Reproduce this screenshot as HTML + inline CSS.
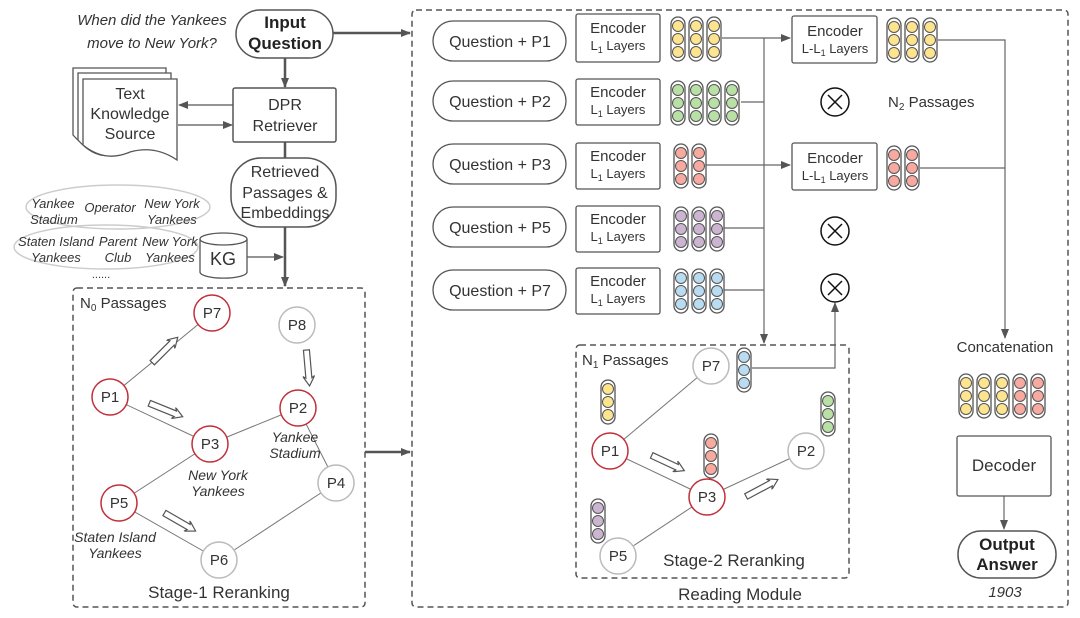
<!DOCTYPE html>
<html><head><meta charset="utf-8"><style>
html,body{margin:0;padding:0;background:#fff}
svg{display:block;font-family:"Liberation Sans",sans-serif}
</style></head><body>
<svg width="1080" height="618" viewBox="0 0 1080 618" xmlns="http://www.w3.org/2000/svg">
<defs>
<marker id="ar" markerWidth="10" markerHeight="8" refX="9" refY="4" orient="auto" markerUnits="userSpaceOnUse"><path d="M0,0 L10,4 L0,8 z" fill="#555"/></marker>
<symbol id="vy" viewBox="0 0 16 46" width="16" height="46"><rect x="1" y="1" width="14" height="44" rx="7" fill="#fff" stroke="#555" stroke-width="1.3"/><circle cx="8" cy="10" r="5.5" fill="#fde58f" stroke="#555"/><circle cx="8" cy="23" r="5.5" fill="#fde58f" stroke="#555"/><circle cx="8" cy="36" r="5.5" fill="#fde58f" stroke="#555"/></symbol>
<symbol id="vg" viewBox="0 0 16 46" width="16" height="46"><rect x="1" y="1" width="14" height="44" rx="7" fill="#fff" stroke="#555" stroke-width="1.3"/><circle cx="8" cy="10" r="5.5" fill="#b9e0a5" stroke="#555"/><circle cx="8" cy="23" r="5.5" fill="#b9e0a5" stroke="#555"/><circle cx="8" cy="36" r="5.5" fill="#b9e0a5" stroke="#555"/></symbol>
<symbol id="vr" viewBox="0 0 16 46" width="16" height="46"><rect x="1" y="1" width="14" height="44" rx="7" fill="#fff" stroke="#555" stroke-width="1.3"/><circle cx="8" cy="10" r="5.5" fill="#f8a9a0" stroke="#555"/><circle cx="8" cy="23" r="5.5" fill="#f8a9a0" stroke="#555"/><circle cx="8" cy="36" r="5.5" fill="#f8a9a0" stroke="#555"/></symbol>
<symbol id="vp" viewBox="0 0 16 46" width="16" height="46"><rect x="1" y="1" width="14" height="44" rx="7" fill="#fff" stroke="#555" stroke-width="1.3"/><circle cx="8" cy="10" r="5.5" fill="#cbb5d1" stroke="#555"/><circle cx="8" cy="23" r="5.5" fill="#cbb5d1" stroke="#555"/><circle cx="8" cy="36" r="5.5" fill="#cbb5d1" stroke="#555"/></symbol>
<symbol id="vb" viewBox="0 0 16 46" width="16" height="46"><rect x="1" y="1" width="14" height="44" rx="7" fill="#fff" stroke="#555" stroke-width="1.3"/><circle cx="8" cy="10" r="5.5" fill="#b9dcf2" stroke="#555"/><circle cx="8" cy="23" r="5.5" fill="#b9dcf2" stroke="#555"/><circle cx="8" cy="36" r="5.5" fill="#b9dcf2" stroke="#555"/></symbol>
<symbol id="ha" viewBox="-20 -6 40 12" width="40" height="12"><path d="M-18,-3 L10,-3 L8,-6 L18,0 L8,6 L10,3 L-18,3 z" fill="#fff" stroke="#555" stroke-width="1.2"/></symbol>
</defs>

<!-- dashed boxes -->
<rect x="73" y="288" width="292" height="319" rx="4" fill="none" stroke="#555" stroke-width="1.5" stroke-dasharray="6,4"/>
<rect x="412" y="10" width="656" height="597" rx="4" fill="none" stroke="#555" stroke-width="1.5" stroke-dasharray="6,4"/>
<rect x="576" y="345" width="273" height="233" rx="4" fill="none" stroke="#555" stroke-width="1.5" stroke-dasharray="6,4"/>

<g fill="#333" font-size="15" font-style="italic" text-anchor="middle">
<text x="152" y="25">When did the Yankees</text>
<text x="152" y="48">move to New York?</text>
</g>
<rect x="236" y="10" width="97" height="48" rx="24" fill="#fff" stroke="#555" stroke-width="1.5"/>
<g font-size="17" font-weight="bold" fill="#222" text-anchor="middle"><text x="285" y="28">Input</text><text x="285" y="49">Question</text></g>
<line x1="285" y1="58" x2="285" y2="87" stroke="#555" stroke-width="2.5" marker-end="url(#ar)"/>
<line x1="333" y1="33" x2="410" y2="33" stroke="#555" stroke-width="2.5" marker-end="url(#ar)"/>

<rect x="233" y="88" width="103" height="54" rx="2" fill="#fff" stroke="#555" stroke-width="1.5"/>
<g font-size="16" fill="#333" text-anchor="middle"><text x="285" y="110">DPR</text><text x="285" y="131">Retriever</text></g>

<!-- doc stack -->
<g fill="#fff" stroke="#555" stroke-width="1.3">
<path d="M73,68 L166,68 L166,140 Q140,130 120,145 Q95,160 73,135 z"/>
<path d="M78,73 L171,73 L171,145 Q145,135 125,150 Q100,165 78,140 z"/>
<path d="M83,79 L177,79 L177,160 Q155,145 130,152 Q105,163 83,145 z"/>
</g>
<g font-size="16" fill="#333" text-anchor="middle"><text x="130" y="99">Text</text><text x="130" y="119">Knowledge</text><text x="130" y="139">Source</text></g>
<line x1="233" y1="105" x2="179" y2="105" stroke="#555" stroke-width="1.2" marker-end="url(#ar)"/>
<line x1="178" y1="125" x2="232" y2="125" stroke="#555" stroke-width="1.2" marker-end="url(#ar)"/>
<line x1="285" y1="142" x2="285" y2="158" stroke="#555" stroke-width="2.5"/>
<rect x="231" y="158" width="105" height="69" rx="30" fill="#fff" stroke="#555" stroke-width="1.5"/>
<g font-size="16" fill="#333" text-anchor="middle"><text x="285" y="177">Retrieved</text><text x="285" y="198">Passages &amp;</text><text x="285" y="218">Embeddings</text></g>
<line x1="285" y1="227" x2="285" y2="286" stroke="#555" stroke-width="2.5" marker-end="url(#ar)"/>

<ellipse cx="118" cy="207" rx="92" ry="22" fill="#fff" stroke="#ccc" stroke-width="1.5"/>
<ellipse cx="106" cy="247" rx="92" ry="22" fill="none" stroke="#ccc" stroke-width="1.5"/>
<g font-size="13" font-style="italic" fill="#333" text-anchor="middle">
<text x="53" y="208">Yankee</text><text x="54" y="224">Stadium</text>
<text x="110" y="212">Operator</text>
<text x="172" y="208">New York</text><text x="172" y="224">Yankees</text>
<text x="56" y="246">Staten Island</text><text x="56" y="262">Yankees</text>
<text x="118" y="246">Parent</text><text x="118" y="262">Club</text>
<text x="170" y="246">New York</text><text x="170" y="262">Yankees</text>
<text x="101" y="278" font-style="normal" font-size="11">......</text>
</g>
<path d="M200,239 L200,272 A23,6 0 0 0 247,272 L247,239" fill="#fff" stroke="#555" stroke-width="1.3"/>
<ellipse cx="223.5" cy="239" rx="23.5" ry="6" fill="#fff" stroke="#555" stroke-width="1.3"/>
<text x="223" y="265" font-size="18" fill="#333" text-anchor="middle">KG</text>
<line x1="247" y1="257" x2="283" y2="257" stroke="#555" stroke-width="1.2" marker-end="url(#ar)"/>
<line x1="365" y1="452" x2="410" y2="452" stroke="#555" stroke-width="2.5" marker-end="url(#ar)"/>

<!-- Stage 1 -->
<text x="80" y="308" font-size="15" fill="#333">N<tspan font-size="10" dy="3">0</tspan><tspan dy="-3"> Passages</tspan></text>
<g stroke="#777" stroke-width="1">
<line x1="110" y1="397" x2="212" y2="313"/><line x1="110" y1="397" x2="210" y2="444"/>
<line x1="210" y1="444" x2="298" y2="408"/><line x1="210" y1="444" x2="119" y2="503"/>
<line x1="119" y1="503" x2="219" y2="560"/><line x1="219" y1="560" x2="336" y2="483"/>
<line x1="298" y1="408" x2="336" y2="483"/>
</g>
<use href="#ha" x="145" y="344" transform="rotate(-45 165 350)"/>
<use href="#ha" x="146" y="404" transform="rotate(22 166 410)"/>
<use href="#ha" x="288" y="362" transform="rotate(85 308 368)"/>
<use href="#ha" x="160" y="516" transform="rotate(30 180 522)"/>
<g font-size="15" fill="#333" text-anchor="middle">
<circle cx="212" cy="313" r="18" fill="#fff" stroke="#c0303a" stroke-width="1.5"/><text x="212" y="318">P7</text>
<circle cx="297" cy="325" r="18" fill="#fff" stroke="#bbb" stroke-width="1.5"/><text x="297" y="330">P8</text>
<circle cx="110" cy="397" r="18" fill="#fff" stroke="#c0303a" stroke-width="1.5"/><text x="110" y="402">P1</text>
<circle cx="298" cy="408" r="18" fill="#fff" stroke="#c0303a" stroke-width="1.5"/><text x="298" y="413">P2</text>
<circle cx="210" cy="444" r="18" fill="#fff" stroke="#c0303a" stroke-width="1.5"/><text x="210" y="449">P3</text>
<circle cx="336" cy="483" r="18" fill="#fff" stroke="#bbb" stroke-width="1.5"/><text x="336" y="488">P4</text>
<circle cx="119" cy="503" r="18" fill="#fff" stroke="#c0303a" stroke-width="1.5"/><text x="119" y="508">P5</text>
<circle cx="219" cy="560" r="18" fill="#fff" stroke="#bbb" stroke-width="1.5"/><text x="219" y="565">P6</text>
</g>
<g font-size="14" font-style="italic" fill="#333" text-anchor="middle">
<text x="295" y="442">Yankee</text><text x="295" y="458">Stadium</text>
<text x="218" y="480">New York</text><text x="218" y="496">Yankees</text>
<text x="115" y="542">Staten Island</text><text x="115" y="558">Yankees</text>
</g>
<text x="219" y="598" font-size="17" fill="#333" text-anchor="middle">Stage-1 Reranking</text>

<!-- Reading module rows -->
<g font-size="16" fill="#333" text-anchor="middle">
<rect x="433" y="21" width="133" height="40" rx="20" fill="#fff" stroke="#555" stroke-width="1.3"/><text x="500" y="47">Question + P1</text>
<rect x="433" y="81" width="133" height="40" rx="20" fill="#fff" stroke="#555" stroke-width="1.3"/><text x="500" y="107">Question + P2</text>
<rect x="433" y="144" width="133" height="40" rx="20" fill="#fff" stroke="#555" stroke-width="1.3"/><text x="500" y="170">Question + P3</text>
<rect x="433" y="207" width="133" height="40" rx="20" fill="#fff" stroke="#555" stroke-width="1.3"/><text x="500" y="233">Question + P5</text>
<rect x="433" y="270" width="133" height="40" rx="20" fill="#fff" stroke="#555" stroke-width="1.3"/><text x="500" y="296">Question + P7</text>
</g>
<g fill="#fff" stroke="#555" stroke-width="1.3">
<rect x="576" y="14" width="84" height="48" rx="2"/>
<rect x="576" y="79" width="84" height="46" rx="2"/>
<rect x="576" y="143" width="84" height="46" rx="2"/>
<rect x="576" y="206" width="84" height="46" rx="2"/>
<rect x="576" y="268" width="84" height="46" rx="2"/>
<rect x="792" y="16" width="85" height="47" rx="2"/>
<rect x="792" y="143" width="85" height="47" rx="2"/>
</g>
<g fill="#333" text-anchor="middle">
<g font-size="15"><text x="618" y="33">Encoder</text><text x="618" y="97">Encoder</text><text x="618" y="161">Encoder</text><text x="618" y="224">Encoder</text><text x="618" y="286">Encoder</text><text x="835" y="36">Encoder</text><text x="835" y="163">Encoder</text></g>
<g font-size="13">
<text x="618" y="50">L<tspan font-size="9" dy="3">1</tspan><tspan dy="-3"> Layers</tspan></text>
<text x="618" y="114">L<tspan font-size="9" dy="3">1</tspan><tspan dy="-3"> Layers</tspan></text>
<text x="618" y="178">L<tspan font-size="9" dy="3">1</tspan><tspan dy="-3"> Layers</tspan></text>
<text x="618" y="241">L<tspan font-size="9" dy="3">1</tspan><tspan dy="-3"> Layers</tspan></text>
<text x="618" y="303">L<tspan font-size="9" dy="3">1</tspan><tspan dy="-3"> Layers</tspan></text>
<text x="835" y="53">L-L<tspan font-size="9" dy="3">1</tspan><tspan dy="-3"> Layers</tspan></text>
<text x="835" y="180">L-L<tspan font-size="9" dy="3">1</tspan><tspan dy="-3"> Layers</tspan></text>
</g></g>

<!-- connectors -->
<g stroke="#666" stroke-width="1.2" fill="none">
<line x1="722" y1="38" x2="764" y2="38"/>
<line x1="741" y1="102" x2="764" y2="102"/>
<line x1="724" y1="228" x2="764" y2="228"/>
<line x1="724" y1="290" x2="764" y2="290"/>
<line x1="764" y1="38" x2="764" y2="343" marker-end="url(#ar)"/>
<line x1="764" y1="38" x2="790" y2="38" marker-end="url(#ar)"/>
<line x1="705" y1="165" x2="790" y2="165" marker-end="url(#ar)"/>
<polyline points="938,40 1005,40 1005,338" marker-end="url(#ar)"/>
<line x1="920" y1="168" x2="1005" y2="168"/>
<polyline points="752,368 835,368 835,303" marker-end="url(#ar)"/>
<line x1="1004" y1="496" x2="1004" y2="529" marker-end="url(#ar)"/>
</g>

<!-- vectors -->
<use href="#vy" x="670" y="16"/><use href="#vy" x="688" y="16"/><use href="#vy" x="706" y="16"/>
<use href="#vg" x="670" y="80"/><use href="#vg" x="688" y="80"/><use href="#vg" x="706" y="80"/><use href="#vg" x="724" y="80"/>
<use href="#vr" x="673" y="143"/><use href="#vr" x="691" y="143"/>
<use href="#vp" x="673" y="206"/><use href="#vp" x="691" y="206"/><use href="#vp" x="709" y="206"/>
<use href="#vb" x="673" y="268"/><use href="#vb" x="691" y="268"/><use href="#vb" x="709" y="268"/>
<use href="#vy" x="886" y="17"/><use href="#vy" x="904" y="17"/><use href="#vy" x="922" y="17"/>
<use href="#vr" x="886" y="145"/><use href="#vr" x="904" y="145"/>

<g fill="#fff" stroke="#111" stroke-width="1.5">
<circle cx="835" cy="102" r="14"/><circle cx="835" cy="231" r="14"/><circle cx="835" cy="288" r="14"/>
</g>
<g stroke="#111" stroke-width="1.5">
<path d="M828,95 L842,109 M842,95 L828,109"/>
<path d="M828,224 L842,238 M842,224 L828,238"/>
<path d="M828,281 L842,295 M842,281 L828,295"/>
</g>
<text x="888" y="107" font-size="15" fill="#333">N<tspan font-size="10" dy="3">2</tspan><tspan dy="-3"> Passages</tspan></text>

<!-- Stage 2 -->
<text x="582" y="365" font-size="15" fill="#333">N<tspan font-size="10" dy="3">1</tspan><tspan dy="-3"> Passages</tspan></text>
<g stroke="#777" stroke-width="1">
<line x1="610" y1="451" x2="711" y2="366"/><line x1="610" y1="451" x2="707" y2="497"/>
<line x1="707" y1="497" x2="806" y2="451"/><line x1="707" y1="497" x2="618" y2="556"/>
</g>
<use href="#ha" x="648" y="457" transform="rotate(25 668 463)"/>
<use href="#ha" x="742" y="482" transform="rotate(-28 762 488)"/>
<use href="#vy" x="600" y="379"/>
<use href="#vb" x="736" y="347"/>
<use href="#vg" x="820" y="391"/>
<use href="#vr" x="703" y="433"/>
<use href="#vp" x="590" y="498"/>
<g font-size="15" fill="#333" text-anchor="middle">
<circle cx="711" cy="366" r="18" fill="#fff" stroke="#bbb" stroke-width="1.5"/><text x="711" y="371">P7</text>
<circle cx="610" cy="451" r="18" fill="#fff" stroke="#c0303a" stroke-width="1.5"/><text x="610" y="456">P1</text>
<circle cx="806" cy="451" r="18" fill="#fff" stroke="#bbb" stroke-width="1.5"/><text x="806" y="456">P2</text>
<circle cx="707" cy="497" r="18" fill="#fff" stroke="#c0303a" stroke-width="1.5"/><text x="707" y="502">P3</text>
<circle cx="618" cy="556" r="18" fill="#fff" stroke="#bbb" stroke-width="1.5"/><text x="618" y="561">P5</text>
</g>
<text x="734" y="566" font-size="17" fill="#333" text-anchor="middle">Stage-2 Reranking</text>
<text x="740" y="600" font-size="17" fill="#333" text-anchor="middle">Reading Module</text>

<!-- right column -->
<text x="1005" y="352" font-size="15" fill="#333" text-anchor="middle">Concatenation</text>
<use href="#vy" x="958" y="373"/><use href="#vy" x="976" y="373"/><use href="#vy" x="994" y="373"/><use href="#vr" x="1012" y="373"/><use href="#vr" x="1030" y="373"/>
<rect x="957" y="436" width="94" height="60" rx="2" fill="#fff" stroke="#555" stroke-width="1.3"/>
<text x="1004" y="471" font-size="17" fill="#333" text-anchor="middle">Decoder</text>
<rect x="958" y="531" width="98" height="47" rx="23" fill="#fff" stroke="#555" stroke-width="1.5"/>
<g font-size="17" font-weight="bold" fill="#222" text-anchor="middle"><text x="1007" y="550">Output</text><text x="1007" y="570">Answer</text></g>
<text x="1005" y="597" font-size="15" font-style="italic" fill="#333" text-anchor="middle">1903</text>
</svg>
</body></html>
